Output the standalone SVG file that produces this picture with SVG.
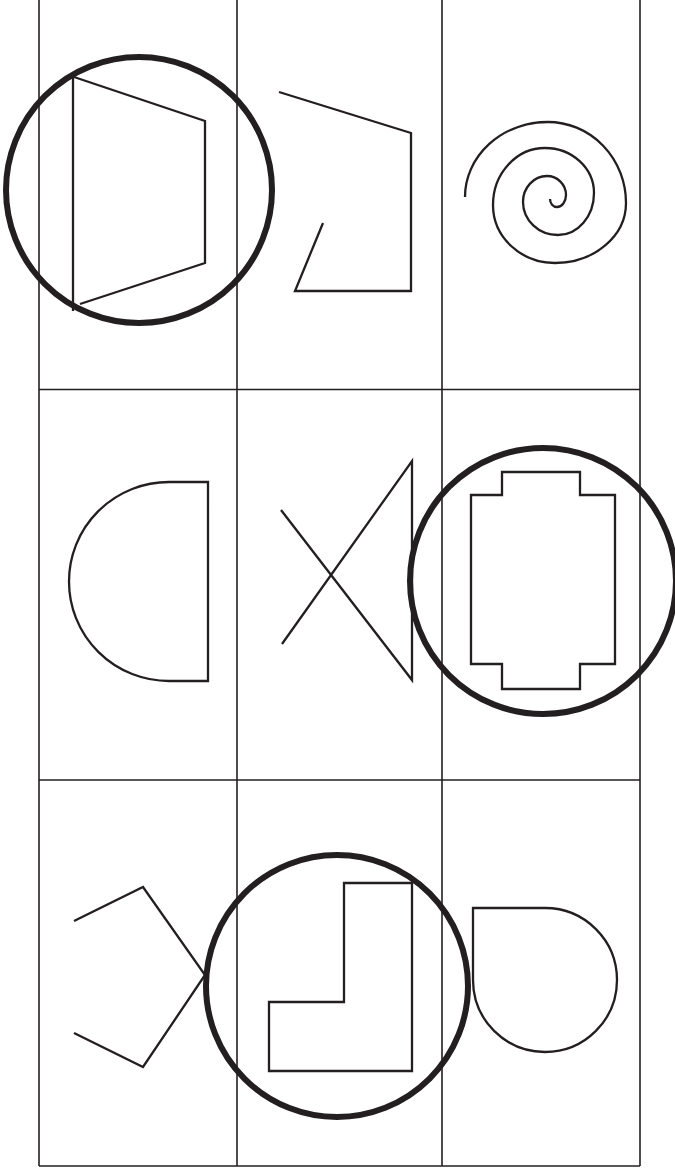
<svg xmlns="http://www.w3.org/2000/svg" width="675" height="1172" viewBox="0 0 675 1172">
<style>
.grid{stroke:#231f20;stroke-width:1.6;fill:none}
.shape{stroke:#231f20;stroke-width:2.3;fill:none;stroke-linejoin:miter}
.ring{stroke:#231f20;stroke-width:6;fill:none}
</style>
<rect width="675" height="1172" fill="#fff"/>
<g id="grid" class="grid">
<line x1="39" y1="0" x2="39" y2="1166"/>
<line x1="237" y1="0" x2="237" y2="1166"/>
<line x1="442" y1="0" x2="442" y2="1166"/>
<line x1="640" y1="0" x2="640" y2="1166"/>
<line x1="39" y1="389.5" x2="640" y2="389.5"/>
<line x1="39" y1="780" x2="640" y2="780"/>
<line x1="39" y1="1166" x2="640" y2="1166"/>
</g>
<g id="trapezoid" class="shape">
<line x1="73" y1="76" x2="73" y2="311"/>
<polyline points="74,77 205,121 205,263 80,304"/>
</g>
<g id="open-pentagon" class="shape">
<polyline points="279,92 411,133 411,291 295,291 323,223"/>
</g>
<g id="spiral" class="shape">
<path d="M465,197 A83,75 0 0 1 548,122 A78,81 0 0 1 626,203 A71,60 0 0 1 555,263 A62,58 0 0 1 493,205 A52,57 0 0 1 545,148 A49,45 0 0 1 594,193 A36,42 0 0 1 558,235 A35,33 0 0 1 523,202 A24,26 0 0 1 547,176 A19,19 0 0 1 566,195 A9,12 0 0 1 557,207 A7,8 0 0 1 550,199"/>
</g>
<g id="half-disc" class="shape">
<path d="M208,482 L169,482 A100,99.5 0 0 0 169,681 L208,681 Z"/>
</g>
<g id="bowtie" class="shape">
<polyline points="281,510 412,680 412,461 282,644"/>
</g>
<g id="notched-rect" class="shape">
<path d="M471,495 L502,495 L502,472 L580,472 L580,495 L615,495 L615,664 L580,664 L580,689 L502,689 L502,664 L471,664 Z"/>
</g>
<g id="chevron" class="shape">
<polyline points="74,921 143,887 205,975 143,1067 74,1033"/>
</g>
<g id="l-shape" class="shape">
<path d="M344,883 L412,883 L412,1071 L269,1071 L269,1002 L344,1002 Z"/>
</g>
<g id="teardrop" class="shape">
<path d="M473,908 L545,908 A72,72 0 1 1 473,980 Z"/>
</g>
<g id="circles" class="ring">
<circle cx="139" cy="190" r="133"/>
<circle cx="543" cy="581" r="133"/>
<circle cx="337" cy="986" r="131"/>
</g>
</svg>
